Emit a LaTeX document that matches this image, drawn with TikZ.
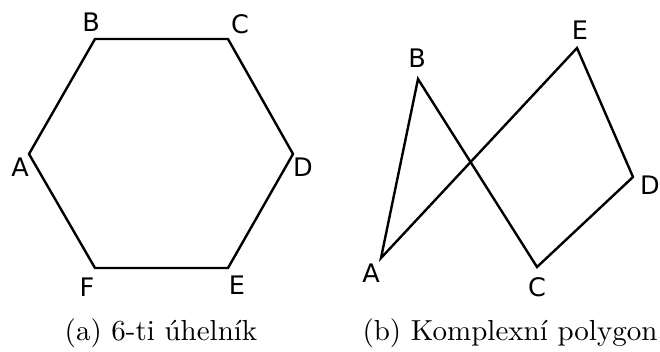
\documentclass[tikz,border=0pt]{standalone}
\usepackage{fontspec}
\newfontfamily\lblfont{DejaVu Sans}
\newfontfamily\capfont{lmroman10-regular.otf}
\begin{document}
\begin{tikzpicture}[x=1pt,y=-1pt,
  edge/.style={draw=black,line width=2.4pt,line join=miter},
  lbl/.style={font=\lblfont\fontsize{25.5}{30}\selectfont,inner sep=0pt},
  captxt/.style={font=\capfont\fontsize{29}{34}\selectfont,inner sep=0pt}]
\useasboundingbox (0,0) rectangle (660,351);
% (a) hexagon
\coordinate (hA) at (29,154);
\coordinate (hB) at (95,39);
\coordinate (hC) at (228,39);
\coordinate (hD) at (293,154);
\coordinate (hE) at (228,268);
\coordinate (hF) at (95,268);
\draw[edge] (hA) -- (hB) -- (hC) -- (hD) -- (hE) -- (hF) -- cycle;
\node[lbl] (lA) at (20,167) {A};
\node[lbl] (lB) at (91,22) {B};
\node[lbl] (lC) at (240,24) {C};
\node[lbl] (lD) at (303,167) {D};
\node[lbl] (lE) at (237,285) {E};
\node[lbl] (lF) at (87,287) {F};
\node[captxt] (capa) at (161,333) {(a) 6-ti úhelník};
% (b) complex polygon
\coordinate (pA) at (381,258);
\coordinate (pB) at (418,79);
\coordinate (pC) at (537,267);
\coordinate (pD) at (633,177);
\coordinate (pE) at (577,48);
\draw[edge] (pA) -- (pB) -- (pC) -- (pD) -- (pE) -- cycle;
\node[lbl] (qA) at (371,273) {A};
\node[lbl] (qB) at (417,58) {B};
\node[lbl] (qC) at (537,287) {C};
\node[lbl] (qD) at (650,185) {D};
\node[lbl] (qE) at (580,30) {E};
\node[captxt] (capb) at (510,333) {(b) Komplexní polygon};
\end{tikzpicture}
\end{document}
